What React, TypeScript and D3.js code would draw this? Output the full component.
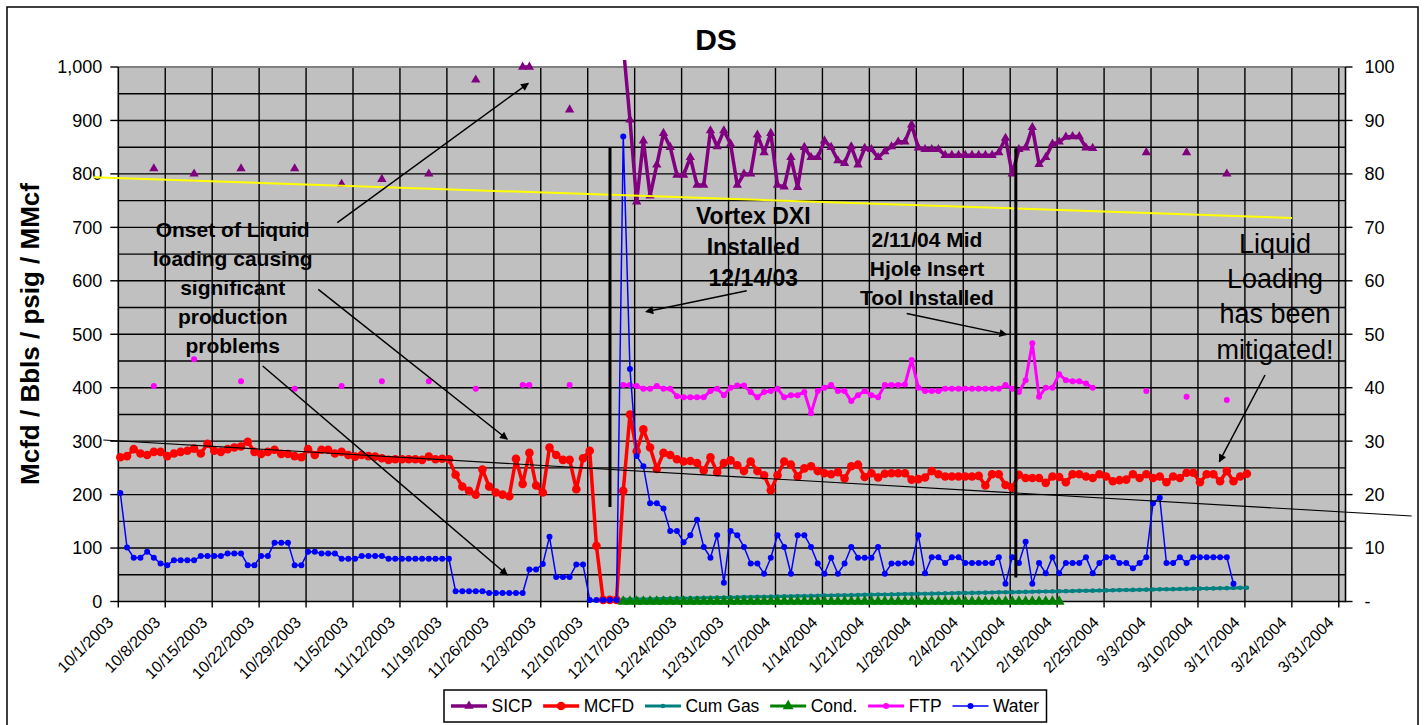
import React from "react";
import * as d3 from "d3";

// ---------------- DATA ----------------
const N = null;
const gap = (n: number) => new Array(n).fill(null);

const START_DATE = "10/1/2003"; // first daily value
const AXIS_END_DATE = "4/1/2004";

const xTickLabels = [
  "10/1/2003", "10/8/2003", "10/15/2003", "10/22/2003", "10/29/2003", "11/5/2003",
  "11/12/2003", "11/19/2003", "11/26/2003", "12/3/2003", "12/10/2003", "12/17/2003",
  "12/24/2003", "12/31/2003", "1/7/2004", "1/14/2004", "1/21/2004", "1/28/2004",
  "2/4/2004", "2/11/2004", "2/18/2004", "2/25/2004", "3/3/2004", "3/10/2004",
  "3/17/2004", "3/24/2004", "3/31/2004",
];
const yLeftTicks = [0, 100, 200, 300, 400, 500, 600, 700, 800, 900, 1000];
const yRightTicks = [0, 10, 20, 30, 40, 50, 60, 70, 80, 90, 100];
const seriesNames = ["SICP", "MCFD", "Cum Gas", "Cond.", "FTP", "Water"];

// daily values from 10/1/2003 (index 0) to 3/17/2004 (index 168)
const sicp = [
  ...gap(5), 810, ...gap(5), 800, ...gap(6), 810, ...gap(7), 810, ...gap(6), 781, ...gap(5), 790,
  ...gap(6), 800, ...gap(6), 976, ...gap(6), 1000, 1000, ...gap(5), 920, ...gap(7),
  1040, 901, 748, 862, 759, 817, 876, 850, 798, 798, 831, 779, 779, 881, 851, 881, 856, 779, 800, 800,
  873, 840, 876, 779, 776, 831, 775, 850, 831, 831, 862, 850, 825, 820, 851, 817, 848, 846, 831, 842,
  851, 860, 860, 892, 849, 846, 846, 846, 835, 835, 835, 835, 835, 835, 835, 835, 840, 867, 800, 846,
  849, 887, 818, 831, 856, 860, 869, 870, 870, 849, 848,
  ...gap(7), 840, ...gap(5), 840, ...gap(5), 800, ...gap(3),
];

const mcfd = [
  270, 272, 285, 277, 274, 280, 280, 272, 277, 280,
  282, 286, 277, 295, 282, 280, 285, 288, 290, 299,
  280, 276, 280, 284, 276, 276, 272, 270, 285, 274,
  284, 284, 277, 280, 274, 271, 274, 272, 271, 268,
  265, 266, 266, 266, 266, 265, 271, 266, 267, 266,
  237, 215, 207, 200, 247, 215, 204, 200, 197, 267,
  220, 278, 217, 204, 288, 274, 265, 265, 210, 268,
  282, 104, 3, 3, 3, 207, 350, 281, 322, 288,
  248, 278, 274, 266, 262, 263, 259, 245, 270, 242,
  259, 264, 255, 244, 262, 244, 236, 208, 236, 262,
  256, 234, 249, 253, 244, 240, 238, 242, 230, 253,
  256, 233, 240, 232, 239, 240, 240, 240, 228, 229,
  232, 244, 238, 234, 234, 234, 234, 234, 235, 217,
  238, 238, 218, 213, 237, 231, 231, 231, 222, 234,
  233, 223, 238, 238, 234, 231, 238, 234, 225, 227,
  228, 238, 231, 238, 231, 234, 223, 234, 231, 241,
  241, 223, 238, 238, 225, 244, 225, 234, 239,
];

const cumGas = [
  ...gap(75),
  4.0, 4.2, 4.5, 4.7, 4.9, 5.2, 5.4, 5.6, 5.9, 6.1,
  6.3, 6.6, 6.8, 7.0, 7.3, 7.5, 7.7, 8.0, 8.2, 8.4,
  8.7, 8.9, 9.1, 9.4, 9.6, 9.8, 10.1, 10.3, 10.5, 10.8,
  11.0, 11.2, 11.5, 11.7, 11.9, 12.2, 12.4, 12.6, 12.9, 13.1,
  13.3, 13.6, 13.8, 14.0, 14.3, 14.5, 14.7, 15.0, 15.2, 15.4,
  15.7, 15.9, 16.1, 16.4, 16.6, 16.8, 17.1, 17.3, 17.5, 17.8,
  18.0, 18.2, 18.5, 18.7, 18.9, 19.2, 19.4, 19.6, 19.9, 20.1,
  20.3, 20.6, 20.8, 21.0, 21.3, 21.5, 21.7, 22.0, 22.2, 22.4,
  22.7, 22.9, 23.1, 23.4, 23.6, 23.8, 24.1, 24.3, 24.5, 24.8,
  25.0, 25.2, 25.5, 25.7,
];

const cond = [
  ...gap(75),
  0, 0, 0, 0, 0, 0, 0, 0, 0, 0, 0, 0, 0, 0, 0, 0, 0, 0, 0, 0, 0, 0,
  0, 0, 0, 0, 0, 0, 0, 0, 0, 0, 0, 0, 0, 0, 0, 0, 0, 0, 0, 0, 0, 0,
  0, 0, 0, 0, 0, 0, 0, 0, 0, 0, 0, 0, 0, 0, 0, 0, 0, 0, 0, 0, 0, 0,
  ...gap(28),
];

const ftp = [
  ...gap(5), 403, ...gap(5), 453, ...gap(6), 412, ...gap(7), 398, ...gap(6), 403, ...gap(5), 412,
  ...gap(6), 412, ...gap(6), 398, ...gap(6), 405, 405, ...gap(5), 405, ...gap(7),
  405, 405, 403, 398, 398, 403, 398, 398, 384, 382, 382, 382, 382, 394, 398, 386, 400, 404, 404, 392,
  382, 392, 394, 398, 382, 386, 386, 392, 352, 394, 400, 405, 394, 394, 375, 386, 394, 386, 382, 405,
  405, 405, 406, 452, 400, 394, 394, 394, 398, 398, 398, 398, 398, 398, 398, 398, 398, 405, 398, 392,
  414, 483, 383, 400, 400, 425, 414, 412, 412, 408, 400,
  ...gap(7), 394, ...gap(5), 383, ...gap(5), 377, ...gap(3),
];

const water = [
  203, 101, 82, 82, 93, 82, 71, 68, 77, 77,
  77, 77, 85, 85, 85, 85, 90, 90, 90, 68,
  68, 85, 85, 110, 110, 110, 68, 68, 93, 93,
  90, 90, 90, 80, 80, 80, 85, 85, 85, 85,
  80, 80, 80, 80, 80, 80, 80, 80, 80, 80,
  19, 19, 19, 19, 19, 16, 16, 16, 16, 16,
  16, 60, 60, 70, 121, 46, 46, 46, 69, 69,
  3, 3, 3, 3, 3, 870, 435, 272, 253, 184,
  184, 174, 132, 132, 111, 124, 153, 102, 82, 124,
  35, 132, 124, 102, 71, 71, 52, 82, 124, 102,
  52, 124, 124, 102, 71, 52, 82, 52, 71, 102,
  82, 82, 82, 102, 52, 71, 71, 72, 72, 124,
  53, 83, 83, 72, 83, 83, 72, 72, 72, 72,
  72, 83, 33, 83, 72, 112, 33, 72, 53, 83,
  53, 72, 72, 72, 83, 53, 72, 83, 83, 72,
  72, 62, 72, 83, 184, 194, 72, 72, 83, 72,
  83, 83, 83, 83, 83, 83, 33, N, N,
];

// drawn annotations, in (days since start, left-axis value)
const trendLines = [
  { from: [-3.73, 793.6], to: [175.02, 717.7], color: "#FFFF00", width: 2 },
  { from: [-2.24, 302.2], to: [192.87, 160], color: "#000000", width: 1.2 },
];
const eventLines = [
  { day: 73.32, top: 850, bottom: 177 },
  { day: 133.84, top: 848, bottom: 45 },
];
const arrows = [
  { from: [32.66, 708.7], to: [61.14, 969.5] },
  { from: [29.82, 584.1], to: [58.01, 303.5] },
  { from: [21.53, 440.6], to: [58.01, 49.6] },
  { from: [93.71, 581.5], to: [78.69, 542.2] },
  { from: [117.57, 538.8], to: [132.48, 499.3] },
  { from: [171.0, 423.8], to: [164.18, 261.6] },
];
const notes = [
  { lines: ["Onset of Liquid", "loading causing", "significant", "production", "problems"], day: 17.06, value: 681.4, size: 21, lh: 29, bold: true },
  { lines: ["Vortex DXI", "Installed", "12/14/03"], day: 94.69, value: 705.7, size: 23, lh: 31, bold: true },
  { lines: ["2/11/04 Mid", "Hjole Insert", "Tool Installed"], day: 120.59, value: 663.8, size: 21, lh: 29.3, bold: true },
  { lines: ["Liquid", "Loading", "has been", "mitigated!"], day: 172.49, value: 652.6, size: 27, lh: 35.4, bold: false },
];

// ---------------- CHART ----------------
const FONT = "'Liberation Sans', Arial, Helvetica, sans-serif";
const DAY_MS = 86400000;
const POINT_SHIFT = 0.3;

const styles: Record<string, any> = {
  SICP: { color: "#800080", width: 3.5, marker: "triangle", size: 38 },
  MCFD: { color: "#FF0000", width: 3.5, marker: "circle", r: 4.3 },
  "Cum Gas": { color: "#008080", width: 3, marker: "circle", r: 2.3 },
  "Cond.": { color: "#008000", width: 3, marker: "triangle", size: 52 },
  FTP: { color: "#FF00FF", width: 3, marker: "circle", r: 3 },
  Water: { color: "#0000FF", width: 1.5, marker: "circle", r: 3 },
};
const seriesData: Record<string, (number | null)[]> = {
  SICP: sicp, MCFD: mcfd, "Cum Gas": cumGas, "Cond.": cond, FTP: ftp, Water: water,
};

function parseDate(s: string) {
  const [m, d, y] = s.split("/").map(Number);
  return new Date(Date.UTC(y, m - 1, d));
}

function measure(text: string, font: string) {
  if (typeof document === "undefined") return text.length * 9;
  const c = document.createElement("canvas").getContext("2d");
  if (!c) return text.length * 9;
  c.font = font;
  return c.measureText(text).width;
}

export default function App() {
  const W = 1426, H = 725;
  const P = { left: 118.3, right: 1345.5, top: 67, bottom: 601.5 };
  const t0 = parseDate(START_DATE).getTime();
  const x = d3.scaleUtc().domain([parseDate(START_DATE), parseDate(AXIS_END_DATE)]).range([P.left, P.right]);
  const y = d3.scaleLinear().domain([0, 1000]).range([P.bottom, P.top]);
  const yR = d3.scaleLinear().domain([0, 100]).range([P.bottom, P.top]);
  const dx = (day: number) => x(new Date(t0 + day * DAY_MS));

  const gridH = d3.range(50, 1000, 50);
  const tickDates = xTickLabels.map(parseDate);

  const triangle = (size: number) => d3.symbol(d3.symbolTriangle, size)() as string;

  // legend layout
  const legFont = `17.5px ${FONT}`;
  const lineLen = 36, textGap = 4.5;
  const widths = seriesNames.map((n) => measure(n, legFont));
  const legStart = 451, legEnd = 1039;
  const itemGap = (legEnd - legStart - widths.reduce((a, b) => a + b, 0) - seriesNames.length * (lineLen + textGap)) / (seriesNames.length - 1);
  let cursor = legStart;
  const legItems = seriesNames.map((n, i) => {
    const item = { name: n, x: cursor };
    cursor += lineLen + textGap + widths[i] + itemGap;
    return item;
  });

  const renderMarker = (name: string, cx: number, cy: number, key: any) => {
    const s = styles[name];
    if (s.marker === "triangle") {
      return <path key={key} d={triangle(s.size)} transform={`translate(${cx},${cy})`} fill={s.color} />;
    }
    return <circle key={key} cx={cx} cy={cy} r={s.r} fill={s.color} />;
  };

  return (
    <svg width={W} height={H} style={{ position: "absolute", left: 0, top: 0, background: "#fff" }} fontFamily={FONT}>
      <defs>
        <marker id="ah" viewBox="0 0 10 10" refX="9" refY="5" markerWidth="10" markerHeight="8" markerUnits="userSpaceOnUse" orient="auto">
          <path d="M0,0 L10,5 L0,10 z" fill="#000" />
        </marker>
        <clipPath id="plotclip">
          <rect x={P.left - 10} y={60} width={P.right - P.left + 20} height={P.bottom - 60 + 10} />
        </clipPath>
      </defs>
      <rect x={7} y={7} width={1411} height={740} fill="#fff" stroke="#000" strokeWidth={1.5} />

      {/* title */}
      <text x={716} y={50} textAnchor="middle" fontWeight="bold" fontSize={30}>DS</text>

      {/* plot area */}
      <rect x={P.left} y={P.top} width={P.right - P.left} height={P.bottom - P.top} fill="#C0C0C0" />
      {gridH.map((v) => (
        <line key={"h" + v} x1={P.left} x2={P.right} y1={y(v)} y2={y(v)} stroke="#000" strokeWidth={1.4} />
      ))}
      {tickDates.slice(1).map((d, i) => (
        <line key={"v" + i} x1={x(d)} x2={x(d)} y1={P.top} y2={P.bottom} stroke="#000" strokeWidth={1.4} />
      ))}
      <line x1={P.left} x2={P.right} y1={P.top} y2={P.top} stroke="#808080" strokeWidth={2} />

      {/* axes */}
      <line x1={P.left} x2={P.left} y1={P.top} y2={P.bottom + 0.7} stroke="#000" strokeWidth={1.6} />
      <line x1={P.right} x2={P.right} y1={P.top} y2={P.bottom + 0.7} stroke="#000" strokeWidth={1.6} />
      <line x1={P.left} x2={P.right} y1={P.bottom} y2={P.bottom} stroke="#000" strokeWidth={1.6} />
      {yLeftTicks.map((v) => (
        <g key={"yl" + v}>
          <line x1={P.left - 8} x2={P.left} y1={y(v)} y2={y(v)} stroke="#000" strokeWidth={1.4} />
          <text x={P.left - 16} y={y(v) + 6.4} textAnchor="end" fontSize={18}>{d3.format(",")(v)}</text>
        </g>
      ))}
      {yRightTicks.map((v) => (
        <g key={"yr" + v}>
          <line x1={P.right} x2={P.right + 7} y1={yR(v)} y2={yR(v)} stroke="#000" strokeWidth={1.4} />
          <text x={P.right + 19} y={yR(v) + 6.4} textAnchor="start" fontSize={18}>{v === 0 ? "-" : v}</text>
        </g>
      ))}
      {tickDates.map((d, i) => (
        <g key={"xt" + i}>
          <line x1={x(d)} x2={x(d)} y1={P.bottom} y2={P.bottom + 6} stroke="#000" strokeWidth={1.4} />
          <text transform={`translate(${x(d) - 4},${P.bottom + 22}) rotate(-45)`} textAnchor="end" fontSize={16}>
            {xTickLabels[i]}
          </text>
        </g>
      ))}
      <text transform={`translate(38.5,334) rotate(-90)`} textAnchor="middle" fontWeight="bold" fontSize={26}>
        Mcfd / Bbls / psig / MMcf
      </text>

      {/* series */}
      <g clipPath="url(#plotclip)">
        {seriesNames.map((name) => {
          const s = styles[name];
          const vals = seriesData[name];
          const pts = vals.map((v, i) => [i, v] as [number, number | null]);
          const line = d3.line<[number, number | null]>()
            .defined((d) => d[1] != null)
            .x((d) => dx(d[0] + POINT_SHIFT))
            .y((d) => y(d[1] as number));
          return (
            <g key={name}>
              <path d={line(pts) || ""} fill="none" stroke={s.color} strokeWidth={s.width} strokeLinejoin="round" />
              {pts.filter((d) => d[1] != null).map((d) => renderMarker(name, dx(d[0] + POINT_SHIFT), y(d[1] as number), d[0]))}
            </g>
          );
        })}
      </g>

      {/* annotations */}
      {trendLines.map((t, i) => (
        <line key={"tl" + i} x1={dx(t.from[0])} y1={y(t.from[1])} x2={dx(t.to[0])} y2={y(t.to[1])} stroke={t.color} strokeWidth={t.width} />
      ))}
      {eventLines.map((e, i) => (
        <line key={"ev" + i} x1={dx(e.day)} x2={dx(e.day)} y1={y(e.top)} y2={y(e.bottom)} stroke="#000" strokeWidth={3} />
      ))}
      {arrows.map((a, i) => (
        <line key={"ar" + i} x1={dx(a.from[0])} y1={y(a.from[1])} x2={dx(a.to[0])} y2={y(a.to[1])} stroke="#000" strokeWidth={1.5} markerEnd="url(#ah)" />
      ))}
      {notes.map((n, i) => (
        <text key={"nt" + i} textAnchor="middle" fontSize={n.size} fontWeight={n.bold ? "bold" : "normal"} fill="#000">
          {n.lines.map((l, j) => (
            <tspan key={j} x={dx(n.day)} y={y(n.value) + j * n.lh}>{l}</tspan>
          ))}
        </text>
      ))}

      {/* legend */}
      <rect x={444} y={690} width={602.5} height={32} fill="#fff" stroke="#000" strokeWidth={1.5} />
      {legItems.map((it) => {
        const s = styles[it.name];
        const cy = 706;
        return (
          <g key={"lg" + it.name}>
            <line x1={it.x} x2={it.x + lineLen} y1={cy} y2={cy} stroke={s.color} strokeWidth={s.width} />
            {renderMarker(it.name, it.x + lineLen / 2, cy, "m")}
            <text x={it.x + lineLen + textGap} y={cy + 6.2} fontSize={17.5}>{it.name}</text>
          </g>
        );
      })}
    </svg>
  );
}
